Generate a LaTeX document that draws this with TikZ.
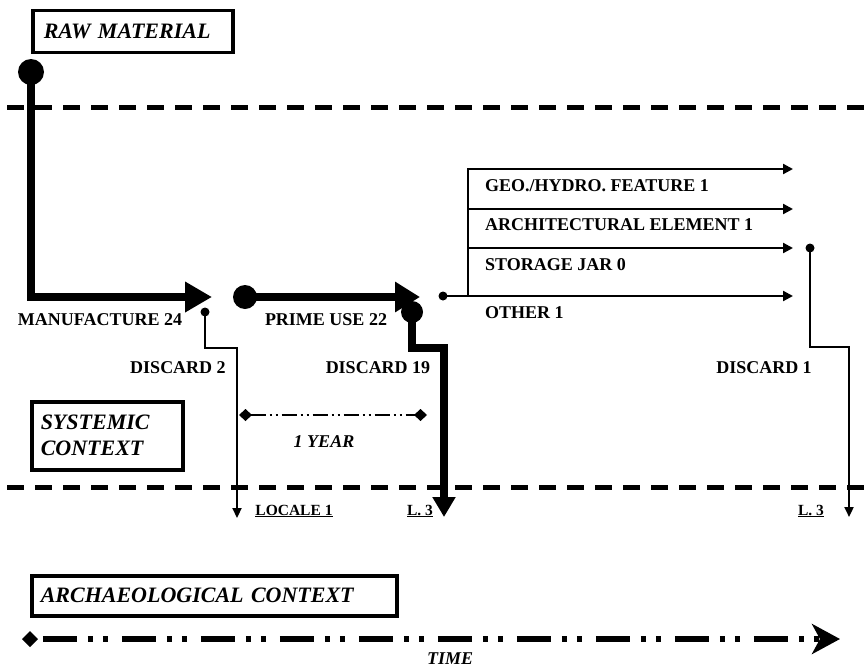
\documentclass[tikz,border=0pt]{standalone}
\usepackage{fontspec}
\setmainfont{Liberation Serif}
\usetikzlibrary{arrows.meta}
\begin{document}
\begin{tikzpicture}[x=1pt,y=-1pt,
  lbl/.style={font=\bfseries\fontsize{18}{20}\selectfont, inner sep=0pt},
  sml/.style={font=\bfseries\fontsize{15.5}{18}\selectfont, inner sep=0pt},
  itl/.style={font=\bfseries\itshape\fontsize{18}{20}\selectfont, inner sep=0pt},
  ctx/.style={draw, line width=3.5pt, font=\bfseries\itshape\fontsize{22}{26}\selectfont,
              align=left, anchor=north west, inner ysep=0pt},
  dot/.style={circle, fill, inner sep=0pt},
  heavy/.style={line width=8pt},
  light/.style={line width=2.2pt},
  bigtip/.style={-{Triangle[length=27pt,width=29pt]}},
  smalltip/.style={-{Triangle[length=10pt,width=10pt]}},
  divider/.style={line width=5pt, dash pattern=on 17pt off 11pt, dash phase=-7pt},
]
\useasboundingbox (0,0) rectangle (866,669);

% context boxes
\node[ctx, minimum width=200pt, minimum height=42pt, text width=178pt, inner xsep=11pt] (raw) at (31,9) {RAW MATERIAL};
\node[ctx, minimum width=151pt, minimum height=68pt, text width=133pt, inner xsep=9pt] (sys) at (30,400) {SYSTEMIC\\CONTEXT};
\node[ctx, minimum width=365pt, minimum height=40pt, text width=347pt, inner xsep=9pt] (arch) at (30,574) {ARCHAEOLOGICAL CONTEXT};

% dividers
\coordinate (t0) at (0,107); \coordinate (t1) at (866,107);
\coordinate (b0) at (0,487); \coordinate (b1) at (866,487);
\draw[divider] (t0) -- (t1);
\draw[divider] (b0) -- (b1);

% raw material -> manufacture
\node[dot, minimum size=26pt] (rm) at (31,72) {};
\coordinate (mend) at (212,297);
\draw[heavy, bigtip] (rm.center) -- (31,297) -- (mend);

% prime use
\node[dot, minimum size=24pt] (pu) at (245,297) {};
\coordinate (puend) at (420,297);
\draw[heavy, -{Triangle[length=25pt,width=29pt]}] (pu.center) -- (puend);

% discard 2
\node[dot, minimum size=9pt] (d2) at (205,312) {};
\coordinate (d2end) at (237,518);
\draw[light, -{Triangle[length=10pt,width=9pt]}] (d2.center) -- (205,348) -- (237,348) -- (d2end);

% discard 19
\node[dot, minimum size=22pt] (d19) at (412,312) {};
\coordinate (d19end) at (444,517);
\draw[heavy, -{Triangle[length=20pt,width=22pt]}] (d19.center) -- (412,348) -- (444,348) -- (d19end);

% other uses
\node[dot, minimum size=9pt] (ob) at (443,296) {};
\coordinate (br) at (468,296);
\coordinate (e1) at (793,169);
\coordinate (e2) at (793,209);
\coordinate (e3) at (793,248);
\coordinate (e4) at (793,296);
\draw[light, smalltip] (ob.center) -- (e4);
\draw[light, smalltip] (br) -- (468,169) -- (e1);
\draw[light, smalltip] (468,209) -- (e2);
\draw[light, smalltip] (468,248) -- (e3);

% discard 1
\node[dot, minimum size=9pt] (d1) at (810,248) {};
\coordinate (d1end) at (849,517);
\draw[light, -{Triangle[length=10pt,width=9pt]}] (d1.center) -- (810,347) -- (849,347) -- (d1end);

% 1 year
\coordinate (ya) at (239,415);
\coordinate (yb) at (427,415);
\draw[line width=2pt, dash pattern=on 15pt off 4pt on 2pt off 4pt on 2pt off 4pt,
      {Diamond[length=13pt,width=12pt]}-{Diamond[length=13pt,width=12pt]}] (ya) -- (yb);

% time
\coordinate (ta) at (22,639);
\coordinate (tb) at (840,639);
\draw[line width=6pt, dash pattern=on 34pt off 11pt on 5pt off 10pt on 5pt off 14pt, dash phase=-9pt,
      {Diamond[length=16pt,width=16pt]}-{Stealth[length=28pt,width=30pt,inset=8pt]}] (ta) -- (tb);

% labels
\node[lbl] (lman) at (100,320) {MANUFACTURE 24};
\node[lbl] (lpu) at (326,320) {PRIME USE 22};
\node[lbl] (ld2) at (178,368) {DISCARD 2};
\node[lbl] (ld19) at (378,368) {DISCARD 19};
\node[lbl] (ld1) at (764,368) {DISCARD 1};
\node[lbl, anchor=west] (lgeo) at (485,186) {GEO./HYDRO. FEATURE 1};
\node[lbl, anchor=west] (larc) at (485,225) {ARCHITECTURAL ELEMENT 1};
\node[lbl, anchor=west] (lsto) at (485,265) {STORAGE JAR 0};
\node[lbl, anchor=west] (loth) at (485,313) {OTHER 1};
\node[itl] (lyear) at (324,442) {1 YEAR};
\node[sml, anchor=base] (lloc) at (294,515) {\underline{LOCALE 1}};
\node[sml, anchor=base] (ll3a) at (420,515) {\underline{L. 3}};
\node[sml, anchor=base] (ll3b) at (811,515) {\underline{L. 3}};
\node[itl, anchor=base] (ltime) at (450,664) {TIME};
\end{tikzpicture}
\end{document}
